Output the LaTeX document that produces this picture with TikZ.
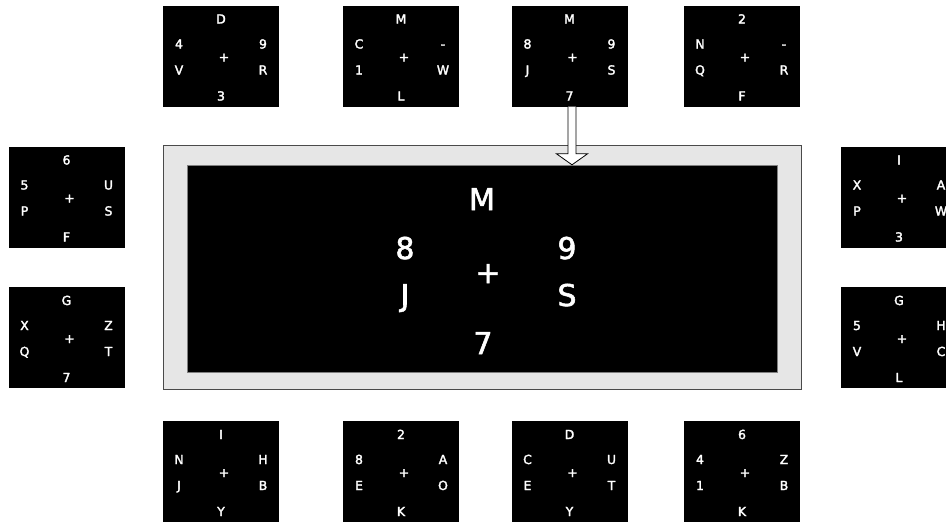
\documentclass[tikz,border=0pt]{standalone}
\usepackage{fontspec}
\setmainfont{DejaVu Sans}
\newfontfamily\tilefont{DejaVu Sans}[FakeBold=2.2]
\newfontfamily\bigfont{DejaVu Sans}[FakeBold=1.8]
\usepackage{xcolor}
\usepackage{tikz}
\usetikzlibrary{calc}
\definecolor{framegray}{HTML}{E6E6E6}
\definecolor{frameline}{HTML}{4A4A4A}
\tikzset{
  tilebox/.style={fill=black, inner sep=0pt, minimum width=116pt, minimum height=101pt},
  tiletext/.style={text=white, inner sep=0pt, font=\tilefont\fontsize{12.5}{12.5}\selectfont, text height=9pt, text depth=0pt},
  bigtext/.style={text=white, inner sep=0pt, font=\bigfont\fontsize{30}{30}\selectfont, text height=22pt, text depth=0pt},
  outerframe/.style={fill=framegray, draw=frameline, line width=1pt, inner sep=0pt, minimum width=638pt, minimum height=244pt},
  screenbox/.style={fill=black, draw=gray, line width=0.4pt, inner sep=0pt, minimum width=590pt, minimum height=207pt},
  hollowarrow/.style={fill=white, draw=black, line width=0.8pt, line join=miter}
}
% one key tile: name, centre, top, left1, right1, left2, right2, bottom
\newcommand{\keytile}[8]{
  \node[tilebox] (#1) at (#2) {};
  \node[tiletext] (#1-top) at ($(#1.center)+(0,-37)$) {#3};
  \node[tiletext] (#1-la) at ($(#1.center)+(-42,-12)$) {#4};
  \node[tiletext] (#1-ra) at ($(#1.center)+(42,-12)$) {#5};
  \node[tiletext] (#1-mid) at ($(#1.center)+(3,1)$) {+};
  \node[tiletext] (#1-lb) at ($(#1.center)+(-42,14)$) {#6};
  \node[tiletext] (#1-rb) at ($(#1.center)+(42,14)$) {#7};
  \node[tiletext] (#1-bot) at ($(#1.center)+(0,40)$) {#8};
}
\begin{document}
\begin{tikzpicture}[x=1pt, y=-1pt]
  \clip (0,0) rectangle (946,523);
  \fill[white] (0,0) rectangle (946,523);
  % top row
  \keytile{top1}{221,56}{D}{4}{9}{V}{R}{3}
  \keytile{top2}{401,56}{M}{C}{-}{1}{W}{L}
  \keytile{top3}{569.5,56}{M}{8}{9}{J}{S}{7}
  \keytile{top4}{742,56}{2}{N}{-}{Q}{R}{F}
  % left and right columns
  \keytile{left1}{66.5,197}{6}{5}{U}{P}{S}{F}
  \keytile{left2}{66.5,337.5}{G}{X}{Z}{Q}{T}{7}
  \keytile{right1}{899,197}{I}{X}{A}{P}{W}{3}
  \keytile{right2}{899,337.5}{G}{5}{H}{V}{C}{L}
  % bottom row
  \keytile{bot1}{221,471.5}{I}{N}{H}{J}{B}{Y}
  \keytile{bot2}{401,471.5}{2}{8}{A}{E}{O}{K}
  \keytile{bot3}{569.5,471.5}{D}{C}{U}{E}{T}{Y}
  \keytile{bot4}{742,471.5}{6}{4}{Z}{1}{B}{K}
  % enlarged view
  \node[outerframe] (frame) at (482,267) {};
  \node[screenbox] (screen) at (482,268.5) {};
  \node[bigtext] (big-top) at ($(screen.center)+(0,-69.5)$) {M};
  \node[bigtext] (big-la) at ($(screen.center)+(-77,-20.5)$) {8};
  \node[bigtext] (big-ra) at ($(screen.center)+(85,-20.5)$) {9};
  \node[bigtext] (big-mid) at ($(screen.center)+(6,3.5)$) {+};
  \node[bigtext] (big-lb) at ($(screen.center)+(-77,26.5)$) {J};
  \node[bigtext] (big-rb) at ($(screen.center)+(85,26.5)$) {S};
  \node[bigtext] (big-bot) at ($(screen.center)+(1,74.5)$) {7};
  % hollow arrow from the chosen tile into the view
  \coordinate (arrowstart) at ($(top3.south)+(2.5,0)$);
  \coordinate (arrowtip) at (arrowstart |- screen.north);
  \draw[hollowarrow] ($(arrowstart)+(-4,0)$) -- ($(arrowtip)+(-4,-11)$) -- ($(arrowtip)+(-15.5,-11)$)
    -- (arrowtip) -- ($(arrowtip)+(15.5,-11)$) -- ($(arrowtip)+(4,-11)$) -- ($(arrowstart)+(4,0)$);
\end{tikzpicture}
\end{document}
